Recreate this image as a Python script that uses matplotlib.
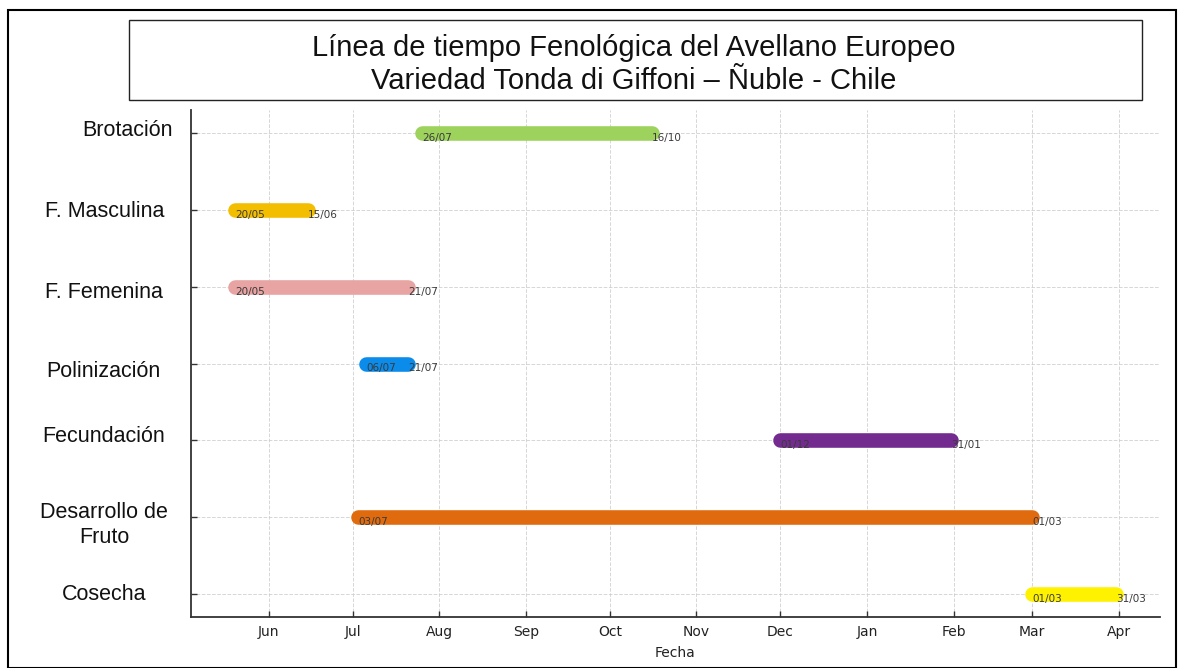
import matplotlib
matplotlib.use("Agg")
import matplotlib.pyplot as plt
import matplotlib.dates as mdates
from matplotlib.patches import Rectangle
import datetime as dt

# ---- data ----
stages = ["Brotación", "F. Masculina", "F. Femenina", "Polinización",
          "Fecundación", "Desarrollo de\nFruto", "Cosecha"]
starts = ["2024-07-26", "2024-05-20", "2024-05-20", "2024-07-06",
          "2024-12-01", "2024-07-03", "2025-03-01"]
ends = ["2024-10-16", "2024-06-15", "2024-07-21", "2024-07-21",
        "2025-01-31", "2025-03-01", "2025-03-31"]
colors = ["#9dd35c", "#f3be00", "#e8a3a3", "#0b8bea",
          "#742b90", "#e06a0e", "#fff200"]
title_lines = ["Línea de tiempo Fenológica del Avellano Europeo",
               "Variedad Tonda di Giffoni – Ñuble - Chile"]
xlabel = "Fecha"

# ---- layout (figure pixel positions for the overlaid stage labels) ----
W, H = 1178, 668
label_xy = [(128, 129), (104.5, 210), (103.5, 290), (103.5, 370),
            (104, 435), (104, 523), (104.5, 593)]

fig = plt.figure(figsize=(W / 100, H / 100), dpi=100)
ax = fig.add_axes([191 / W, 1 - 617 / H, (1160 - 191) / W, (617 - 110) / H])

to_date = lambda s: dt.datetime.strptime(s, "%Y-%m-%d")
ypos = list(range(len(stages)))
for i, (s, e, c) in enumerate(zip(starts, ends, colors)):
    d0, d1 = to_date(s), to_date(e)
    ax.plot([d0, d1], [i, i], color=c, linewidth=10.5, solid_capstyle="round", zorder=3)
    ax.text(d0, i, d0.strftime("%d/%m"), ha="left", va="top", fontsize=7.5,
            color="#3a3a3a", zorder=4)
    ax.text(d1, i, d1.strftime("%d/%m"), ha="left", va="top", fontsize=7.5,
            color="#3a3a3a", zorder=4)

ax.set_yticks(ypos)
ax.set_yticklabels([""] * len(stages))
ax.invert_yaxis()
ax.xaxis.set_major_locator(mdates.MonthLocator())
ax.xaxis.set_major_formatter(mdates.DateFormatter("%b"))
ax.tick_params(axis="both", direction="in", length=4, width=1, colors="#333333",
               labelsize=10)
ax.tick_params(axis="x", labelcolor="#222222", pad=6)
ax.set_xlabel(xlabel, fontsize=10, color="#222222", labelpad=5)
ax.grid(True, linestyle="--", color="#cccccc", linewidth=0.7, alpha=0.8)
ax.set_axisbelow(True)
for sp in ["top", "right"]:
    ax.spines[sp].set_visible(False)
for sp in ["left", "bottom"]:
    ax.spines[sp].set_color("#333333")
    ax.spines[sp].set_linewidth(1.3)

# stage labels (Arial-like overlay)
for lab, (x, y) in zip(stages, label_xy):
    fig.text(x / W, 1 - (y + 2) / H, lab, ha="center", va="center", fontsize=15.5,
             family="Liberation Sans", color="#111111", linespacing=1.25,
             multialignment="center")

# title box
fig.patches.append(Rectangle((129 / W, 1 - 100 / H), (1142 - 129) / W, 80 / H,
                             transform=fig.transFigure, fill=False,
                             edgecolor="#222222", linewidth=1))
fig.text(634 / W, 1 - 56 / H, title_lines[0], ha="center", va="baseline",
         fontsize=21, family="Liberation Sans", color="#111111")
fig.text(634 / W, 1 - 89 / H, title_lines[1], ha="center", va="baseline",
         fontsize=21, family="Liberation Sans", color="#111111")

# outer border
fig.patches.append(Rectangle((8 / W, 0), (1176 - 8) / W, 1 - 10 / H,
                             transform=fig.transFigure, fill=False,
                             edgecolor="#000000", linewidth=1.5))

fig.savefig("out.png", dpi=100)
